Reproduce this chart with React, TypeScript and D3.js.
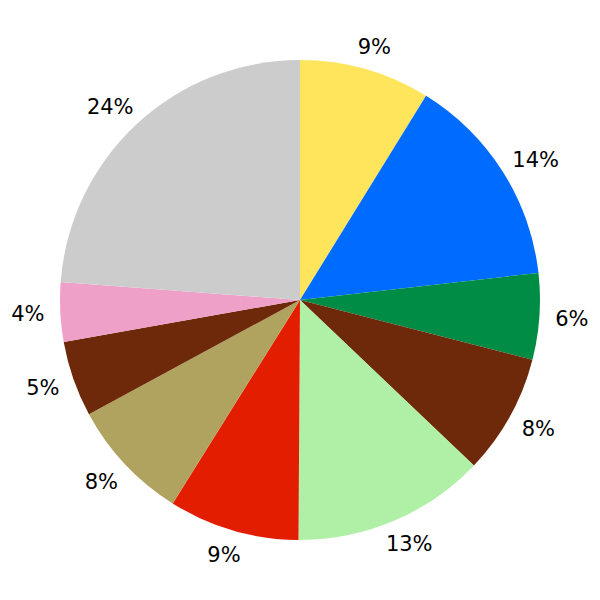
import React from "react";
import * as d3 from "d3";

const categories = ["A", "B", "C", "D", "E", "F", "G", "H", "I", "J"];
const values = [8.8, 14.4, 5.8, 8.1, 13.0, 8.8, 8.2, 5.1, 4.0, 23.8];
const colors = ["#FFE55C", "#006CFF", "#008C44", "#6E280A", "#AFF0A6", "#E31E00", "#AFA35F", "#6E280A", "#EFA0C8", "#CCCCCC"];

export default function App() {
  const W = 600, H = 600, cx = 300, cy = 300, R = 240;
  const fontSize = 21;
  const total = d3.sum(values);
  const pie = d3.pie<number>().sort(null).startAngle(0).endAngle(2 * Math.PI);
  const arcs = pie(values);
  const arc = d3.arc<d3.PieArcDatum<number>>().innerRadius(0).outerRadius(R);
  const labelR = R * 1.07;
  return (
    <svg width={W} height={H} style={{ position: "absolute", left: 0, top: 0 }}>
      <rect width={W} height={H} fill="white" />
      <g transform={`translate(${cx},${cy})`}>
        {arcs.map((a, i) => (
          <path key={categories[i]} d={arc(a) || ""} fill={colors[i]} />
        ))}
        {arcs.map((a, i) => {
          const mid = (a.startAngle + a.endAngle) / 2;
          const label = `${Math.round((values[i] / total) * 100)}%`;
          const nd = label.length - 1;
          const w = fontSize * (0.636 * nd + 0.95) - 2;
          const h = fontSize * 0.7;
          const s = Math.sin(mid), c = Math.cos(mid);
          const x = (labelR + w / 2) * s;
          const y = -(labelR + h / 2) * c;
          return (
            <text key={"t" + i} x={x} y={y} dy="0.05em" textAnchor="middle" dominantBaseline="central"
              fontFamily="DejaVu Sans" fontSize={fontSize} fill="#000">
              {label}
            </text>
          );
        })}
      </g>
    </svg>
  );
}
